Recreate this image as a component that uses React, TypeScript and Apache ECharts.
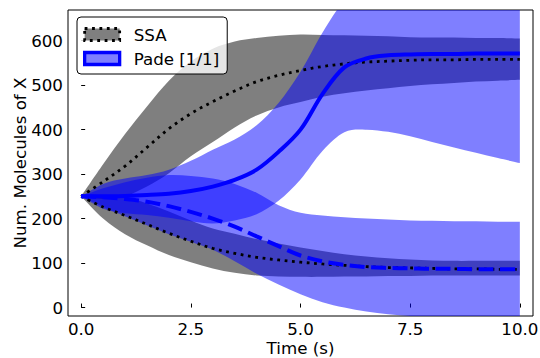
import React, { useEffect, useRef } from "react";
import * as echarts from "echarts";

// Sample times (s)
const time = [0, 0.5, 1, 1.5, 2, 2.5, 3, 3.5, 4, 4.5, 5, 5.5, 6, 6.5, 7, 7.5, 8, 8.5, 9, 9.5, 10];

// SSA, high mode: mean and band edges
const ssaHighMean = [250, 283, 318, 360, 402, 436, 463, 487, 508, 522, 533, 542, 548, 552, 554, 556, 557, 557, 558, 558, 558];
const ssaHighTop = [250, 322, 390, 452, 510, 553, 582, 598, 606, 611, 614, 613, 612, 611, 610, 608, 607, 607, 606, 606, 605];
const ssaHighBottom = [250, 244, 250, 272, 302, 340, 372, 405, 432, 450, 462, 474, 482, 488, 493, 498, 502, 505, 508, 510, 512];

// SSA, low mode
const ssaLowMean = [250, 226, 207, 187, 167, 149, 133, 122, 113, 107, 102, 98, 95, 92, 90, 89, 88, 87, 87, 86, 86];
const ssaLowTop = [250, 252, 249, 234, 216, 196, 178, 166, 154, 144, 135, 127, 120, 115, 111, 108, 106, 105, 105, 105, 105];
const ssaLowBottom = [250, 200, 165, 140, 118, 102, 88, 78, 72, 70, 69, 69, 70, 70, 71, 71, 72, 72, 72, 72, 72];

// Pade [1/1], high mode
const padeHighMean = [250, 250, 251, 253, 256, 262, 272, 287, 310, 350, 400, 480, 540, 560, 567, 569, 570, 570, 571, 571, 571];
const padeHighTop = [250, 278, 290, 298, 310, 330, 355, 378, 410, 460, 530, 618, 690, 725, 742, 755, 768, 780, 792, 805, 817];
const padeHighBottom = [250, 222, 212, 208, 202, 194, 189, 196, 210, 240, 288, 352, 394, 400, 395, 385, 372, 360, 348, 336, 325];

// Pade [1/1], low mode
const padeLowMean = [250, 248, 244, 238, 228, 215, 200, 182, 160, 138, 117, 104, 96, 91, 89, 88, 87, 87, 86, 86, 86];
const padeLowTop = [250, 268, 282, 292, 298, 296, 290, 278, 258, 230, 213, 207, 203, 200, 198, 196, 195, 194, 194, 193, 193];
const padeLowBottom = [250, 226, 205, 185, 165, 148, 130, 104, 76, 52, 30, 12, 0, -9, -15, -19, -21, -21, -21, -21, -21];

const FONT = "DejaVu Sans";
const FS = 16.7;
const GRAY = "rgba(0,0,0,0.5)";
const LIGHT_BLUE = "rgba(0,0,255,0.5)";

type Pt = number[];

// Catmull-Rom style curve through pixel points
function trace(ctx: any, pts: Pt[], start: boolean) {
  const n = pts.length;
  if (start) ctx.moveTo(pts[0][0], pts[0][1]);
  else ctx.lineTo(pts[0][0], pts[0][1]);
  for (let i = 0; i < n - 1; i++) {
    const p0 = pts[Math.max(i - 1, 0)];
    const p1 = pts[i];
    const p2 = pts[i + 1];
    const p3 = pts[Math.min(i + 2, n - 1)];
    ctx.bezierCurveTo(
      p1[0] + (p2[0] - p0[0]) / 6,
      p1[1] + (p2[1] - p0[1]) / 6,
      p2[0] - (p3[0] - p1[0]) / 6,
      p2[1] - (p3[1] - p1[1]) / 6,
      p2[0],
      p2[1]
    );
  }
}

const Band = (echarts.graphic as any).extendShape({
  type: "band",
  shape: { upper: [] as Pt[], lower: [] as Pt[] },
  buildPath(ctx: any, shape: any) {
    trace(ctx, shape.upper, true);
    trace(ctx, shape.lower.slice().reverse(), false);
    ctx.closePath();
  },
});
(echarts.graphic as any).registerShape("band", Band);

function bandSeries(name: string, lo: number[], hi: number[], color: string) {
  return {
    type: "custom",
    name,
    coordinateSystem: "cartesian2d",
    clip: true,
    silent: true,
    itemStyle: { color },
    data: time.map((t, i) => [t, lo[i], hi[i]]),
    encode: { x: 0, y: [1, 2] },
    renderItem: (params: any, api: any) => {
      if (params.dataIndex !== 0) return null;
      return {
        type: "band",
        shape: {
          upper: time.map((t, i) => api.coord([t, hi[i]])),
          lower: time.map((t, i) => api.coord([t, lo[i]])),
        },
        style: { fill: color },
      };
    },
  };
}

function lineSeries(name: string, values: number[], color: string, width: number, dash: any) {
  return {
    type: "line",
    name,
    data: time.map((t, i) => [t, values[i]]),
    symbol: "none",
    showSymbol: false,
    smooth: 0.34,
    silent: true,
    itemStyle: { color },
    lineStyle: { color, width, type: dash, cap: "butt" },
  };
}

export default function App() {
  const ref = useRef<HTMLDivElement>(null);

  useEffect(() => {
    if (!ref.current) return;
    const chart = echarts.init(ref.current, null, { renderer: "svg" });
    const axisText = { fontFamily: FONT, fontSize: FS, color: "#000" };

    chart.setOption({
      animation: false,
      backgroundColor: "#fff",
      grid: {
        left: 68,
        right: 7,
        top: 10,
        bottom: 42,
        containLabel: false,
        outerBoundsMode: "none",
        show: true,
        borderColor: "#000",
        borderWidth: 1,
        backgroundColor: "transparent",
      },
      legend: {
        orient: "vertical",
        left: 77,
        top: 17,
        itemWidth: 35,
        itemHeight: 12,
        itemGap: 7,
        padding: [9, 8, 7, 6],
        backgroundColor: "rgba(255,255,255,0.8)",
        borderColor: "#000",
        borderWidth: 1,
        borderRadius: 4,
        selectedMode: false,
        textStyle: { fontFamily: FONT, fontSize: FS, color: "#000", padding: [0, 0, 0, 9] },
        data: [
          {
            name: "SSA",
            icon: "rect",
            itemStyle: { color: GRAY, borderColor: "#000", borderWidth: 2.8, borderType: [2.8, 4.6] },
          },
          {
            name: "Pade [1/1]",
            icon: "rect",
            itemStyle: { color: LIGHT_BLUE, borderColor: "#0000ff", borderWidth: 3.3, borderType: "solid" },
          },
        ],
      },
      xAxis: {
        type: "value",
        min: -0.3,
        max: 10.3,
        minInterval: 2.5,
        maxInterval: 2.5,
        name: "Time (s)",
        nameLocation: "middle",
        nameGap: 23,
        nameMoveOverlap: false,
        nameTextStyle: { ...axisText, lineHeight: 17 },
        axisLine: { show: false },
        splitLine: { show: false },
        axisTick: { inside: true, length: 4, lineStyle: { color: "#000" } },
        axisLabel: {
          ...axisText,
          margin: 4,
          showMinLabel: false,
          showMaxLabel: false,
          formatter: (v: number) => v.toFixed(1),
        },
      },
      yAxis: {
        type: "value",
        min: -19,
        max: 669,
        minInterval: 100,
        maxInterval: 100,
        name: "Num. Molecules of X",
        nameLocation: "middle",
        nameGap: 40,
        nameMoveOverlap: false,
        nameTextStyle: axisText,
        axisLine: { show: false },
        splitLine: { show: false },
        axisTick: { inside: true, length: 4, lineStyle: { color: "#000" } },
        axisLabel: {
          ...axisText,
          margin: 5,
          showMinLabel: false,
          showMaxLabel: false,
        },
      },
      series: [
        bandSeries("SSA", ssaHighBottom, ssaHighTop, GRAY),
        bandSeries("SSA", ssaLowBottom, ssaLowTop, GRAY),
        lineSeries("SSA", ssaHighMean, "#000", 2.8, [2.8, 4.6]),
        lineSeries("SSA", ssaLowMean, "#000", 2.8, [2.8, 4.6]),
        bandSeries("Pade [1/1]", padeHighBottom, padeHighTop, LIGHT_BLUE),
        bandSeries("Pade [1/1]", padeLowBottom, padeLowTop, LIGHT_BLUE),
        lineSeries("Pade [1/1]", padeHighMean, "#0000ff", 4, "solid"),
        lineSeries("Pade [1/1]", padeLowMean, "#0000ff", 4, [15, 6.5]),
      ],
    });

    return () => chart.dispose();
  }, []);

  return (
    <div
      ref={ref}
      style={{ position: "fixed", left: 0, top: 0, width: 540, height: 358, background: "#fff" }}
    />
  );
}
